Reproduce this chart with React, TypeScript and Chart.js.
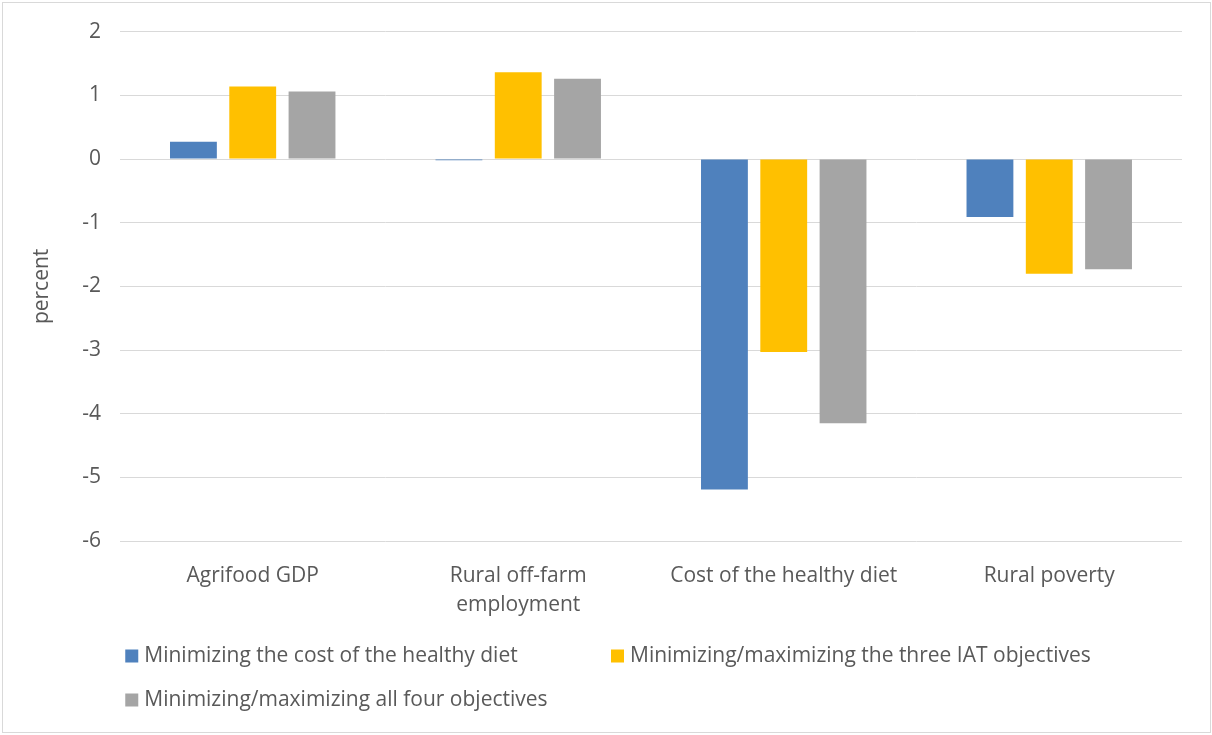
import React, { useEffect, useRef } from "react";
import { Chart, registerables } from "chart.js";

Chart.register(...registerables);

const categories: (string | string[])[] = [
  "Agrifood GDP",
  ["Rural off-farm", "employment"],
  "Cost of the healthy diet",
  "Rural poverty",
];

const seriesNames = [
  "Minimizing the cost of the healthy diet",
  "Minimizing/maximizing the three IAT objectives",
  "Minimizing/maximizing all four objectives",
];

const costOfDiet = [0.27, -0.02, -5.19, -0.91];
const threeIat = [1.14, 1.36, -3.03, -1.8];
const allFour = [1.06, 1.26, -4.15, -1.73];

const seriesColors = ["#4F81BD", "#FFC000", "#A5A5A5"];

const FONT = "'Open Sans', 'Noto Sans', sans-serif";
const FONT_SIZE = 21;
const TEXT = "#595959";
const GRID = "#D9D9D9";

// White background and thin frame around the whole chart
const framePlugin = {
  id: "frame",
  beforeDraw(chart: Chart) {
    const { ctx, width, height } = chart;
    ctx.save();
    ctx.fillStyle = "#FFFFFF";
    ctx.fillRect(0, 0, width, height);
    ctx.strokeStyle = GRID;
    ctx.lineWidth = 1;
    ctx.strokeRect(2.5, 2.5, width - 4, height - 5);
    ctx.restore();
  },
};

// Grid-style legend below the axis: equal-width columns, centred as a block
const gridLegendPlugin = {
  id: "gridLegend",
  afterDraw(chart: Chart) {
    const { ctx, width, height } = chart;
    const datasets = chart.data.datasets;
    const box = 13;
    const boxGap = 6;
    const spacing = 6;
    const rowHeight = 44;
    ctx.save();
    ctx.font = `${FONT_SIZE}px ${FONT}`;
    ctx.textBaseline = "middle";
    ctx.textAlign = "left";
    const textWidths = datasets.map((d) => ctx.measureText(String(d.label)).width);
    const colWidth = Math.max(...textWidths) + box + boxGap + spacing;
    const avail = width - 60;
    const cols = Math.max(1, Math.floor(avail / colWidth));
    const startX = (width - cols * colWidth) / 2 + 5;
    const firstRowY = height - 79;
    datasets.forEach((d, i) => {
      const col = i % cols;
      const row = Math.floor(i / cols);
      const x = startX + col * colWidth;
      const y = firstRowY + row * rowHeight;
      ctx.fillStyle = String(d.backgroundColor);
      ctx.fillRect(x, y - box / 2, box, box);
      ctx.fillStyle = TEXT;
      ctx.fillText(String(d.label), x + box + boxGap, y);
    });
    ctx.restore();
  },
};

export default function App() {
  const canvasRef = useRef<HTMLCanvasElement | null>(null);

  useEffect(() => {
    document.body.style.margin = "0";
    const canvas = canvasRef.current;
    if (!canvas) return;
    const values = [costOfDiet, threeIat, allFour];
    const chart = new Chart(canvas, {
      type: "bar",
      data: {
        labels: categories,
        datasets: seriesNames.map((name, i) => ({
          label: name,
          data: values[i],
          backgroundColor: seriesColors[i],
          borderWidth: 0,
          categoryPercentage: 0.67,
          barPercentage: 0.79,
        })),
      },
      options: {
        animation: false,
        responsive: false,
        maintainAspectRatio: false,
        layout: { padding: { top: 21.5, left: 17, right: 30, bottom: 95 } },
        plugins: {
          legend: { display: false },
          tooltip: { enabled: false },
        },
        scales: {
          x: {
            grid: { display: false, drawTicks: false },
            border: { display: false },
            ticks: {
              color: TEXT,
              padding: 20,
              maxRotation: 0,
              autoSkip: false,
              font: { family: FONT, size: FONT_SIZE, lineHeight: 1.4 },
            },
          },
          y: {
            min: -6,
            max: 2,
            grid: { color: GRID, lineWidth: 1, drawTicks: false },
            border: { display: false },
            ticks: {
              stepSize: 1,
              color: TEXT,
              padding: 19,
              font: { family: FONT, size: FONT_SIZE },
            },
            title: {
              display: true,
              text: "percent",
              color: TEXT,
              padding: { top: 12, bottom: 9 },
              font: { family: FONT, size: FONT_SIZE },
            },
          },
        },
      },
      plugins: [framePlugin, gridLegendPlugin],
    });
    return () => chart.destroy();
  }, []);

  return (
    <div style={{ width: 1212, height: 735 }}>
      <canvas ref={canvasRef} width={1212} height={735} />
    </div>
  );
}
